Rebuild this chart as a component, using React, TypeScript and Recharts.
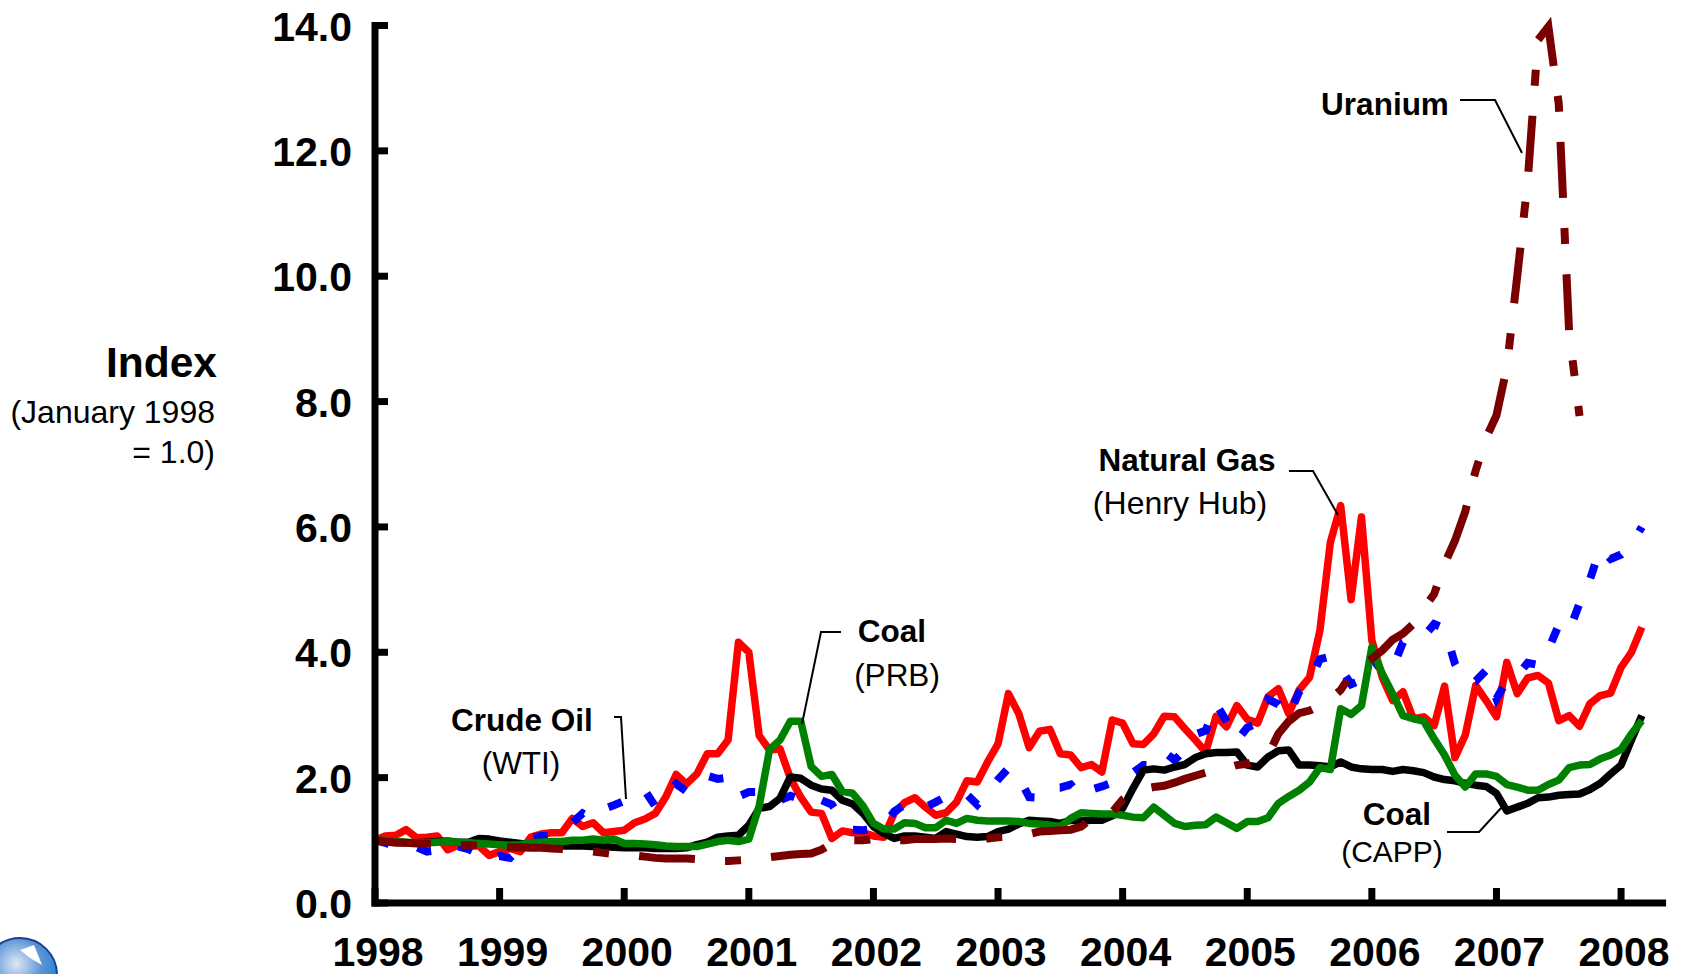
import { LineChart, Line, XAxis, YAxis } from "recharts";

const W = 1684;
const H = 974;
const FONT = '"Liberation Sans", Arial, sans-serif';

const yearTicks = [0, 12, 24, 36, 48, 60, 72, 84, 96, 108, 120];
const yearLabels = ["1998", "1999", "2000", "2001", "2002", "2003", "2004", "2005", "2006", "2007", "2008"];
const indexTicks = [0, 2, 4, 6, 8, 10, 12, 14];

// monthly index values, January 1998 = 1.0
const naturalGas = [
  1.0, 1.07, 1.08, 1.17, 1.04, 1.05, 1.07, 0.85, 0.92, 0.96, 0.91, 0.76,
  0.82, 0.87, 0.82, 1.05, 1.1, 1.12, 1.12, 1.35, 1.22, 1.28, 1.12, 1.14,
  1.16, 1.28, 1.34, 1.43, 1.69, 2.05, 1.9, 2.06, 2.38, 2.38, 2.6, 4.16,
  4.0, 2.67, 2.44, 2.46, 1.99, 1.69, 1.45, 1.43, 1.03, 1.15, 1.12, 1.12,
  1.07, 1.05, 1.43, 1.6, 1.68, 1.53, 1.4, 1.44, 1.61, 1.95, 1.93, 2.25,
  2.54, 3.34, 3.02, 2.48, 2.74, 2.77, 2.38, 2.36, 2.16, 2.21, 2.09, 2.92,
  2.87, 2.54, 2.53, 2.7, 2.98, 2.97, 2.78, 2.6, 2.41, 2.98, 2.81, 3.15,
  2.93, 2.87, 3.29, 3.42, 3.02, 3.4, 3.6, 4.35, 5.75, 6.34, 4.84, 6.16,
  4.19, 3.6, 3.23, 3.37, 2.94, 2.97, 2.83, 3.46, 2.32, 2.68, 3.47, 3.23,
  2.97, 3.84, 3.34, 3.59, 3.63, 3.51, 2.91, 2.99, 2.82, 3.18, 3.31, 3.35,
  3.76, 4.0, 4.4,
];

const crudeOil = [
  1.0, 0.96, 0.9, 0.92, 0.89, 0.82, 0.84, 0.8, 0.9, 0.86, 0.77, 0.68,
  0.75, 0.72, 0.88, 1.04, 1.07, 1.07, 1.2, 1.28, 1.43, 1.35, 1.5, 1.56,
  1.63, 1.76, 1.79, 1.54, 1.72, 1.9, 1.78, 1.87, 2.03, 1.98, 2.0, 1.7,
  1.77, 1.77, 1.63, 1.64, 1.71, 1.65, 1.58, 1.64, 1.57, 1.33, 1.17, 1.16,
  1.18, 1.24, 1.46, 1.57, 1.62, 1.53, 1.61, 1.7, 1.78, 1.73, 1.57, 1.76,
  1.97, 2.15, 2.0, 1.69, 1.68, 1.84, 1.84, 1.89, 1.69, 1.81, 1.86, 1.92,
  2.05, 2.08, 2.2, 2.2, 2.41, 2.28, 2.44, 2.69, 2.75, 3.18, 2.9, 2.59,
  2.8, 2.87, 3.25, 3.17, 2.98, 3.37, 3.53, 3.89, 3.93, 3.74, 3.49, 3.56,
  3.92, 3.69, 3.75, 4.16, 4.24, 4.25, 4.45, 4.38, 3.82, 3.53, 3.54, 3.71,
  3.26, 3.55, 3.63, 3.83, 3.8, 4.04, 4.44, 4.34, 4.78, 5.16, 5.66, 5.49,
  5.56, 5.71, 6.0,
];

const coalCapp = [
  1.0, 0.98, 0.97, 0.96, 0.96, 0.97, 0.98, 0.99, 0.97, 0.97, 1.03, 1.02,
  0.99, 0.97, 0.95, 0.93, 0.93, 0.92, 0.91, 0.91, 0.91, 0.9, 0.9, 0.89,
  0.88, 0.88, 0.88, 0.87, 0.87, 0.87, 0.88, 0.93, 0.97, 1.05, 1.07, 1.08,
  1.24, 1.51, 1.54, 1.67, 2.01, 1.99, 1.88, 1.82, 1.8, 1.64, 1.58, 1.43,
  1.22, 1.11, 1.03, 1.07, 1.07, 1.05, 1.03, 1.14, 1.1, 1.06, 1.05, 1.06,
  1.14, 1.18, 1.26, 1.32, 1.31, 1.3, 1.27, 1.32, 1.31, 1.32, 1.32, 1.39,
  1.51, 1.83, 2.12, 2.14, 2.12, 2.17, 2.21, 2.32, 2.38, 2.4, 2.4, 2.41,
  2.2, 2.17, 2.33, 2.43, 2.44, 2.2, 2.2, 2.19, 2.17, 2.25, 2.17, 2.14,
  2.13, 2.13, 2.1, 2.13, 2.11, 2.08, 2.01, 1.97, 1.95, 1.91, 1.88, 1.86,
  1.75, 1.47, 1.53, 1.59, 1.68, 1.69, 1.72, 1.73, 1.74, 1.81, 1.91, 2.06,
  2.2, 2.6, 2.99,
];

const coalPrb = [
  1.0, 1.0, 0.98, 0.97, 0.96, 0.96, 0.97, 0.98, 0.97, 0.96, 0.95, 0.94,
  0.93, 0.92, 0.93, 0.96, 0.97, 0.98, 0.98, 1.0, 1.0, 1.02, 1.0, 1.02,
  0.95, 0.95, 0.94, 0.93, 0.91, 0.9, 0.9, 0.9, 0.94, 0.98, 1.0, 0.98,
  1.02, 1.55, 2.45, 2.6, 2.9, 2.9, 2.18, 2.02, 2.05, 1.78, 1.75, 1.55,
  1.27, 1.18, 1.18, 1.28, 1.27, 1.2, 1.2, 1.32, 1.27, 1.35, 1.32, 1.31,
  1.31, 1.31, 1.3, 1.27, 1.26, 1.24, 1.22, 1.35, 1.44, 1.43, 1.42, 1.42,
  1.4, 1.37, 1.36, 1.53, 1.4, 1.27, 1.22, 1.24, 1.25, 1.37, 1.28, 1.19,
  1.3, 1.3, 1.36, 1.59, 1.7, 1.8, 1.93, 2.16, 2.13, 3.1, 3.01, 3.15,
  4.08, 3.66, 3.34, 2.99, 2.94, 2.9, 2.62, 2.36, 2.04, 1.85, 2.06, 2.06,
  2.02, 1.89, 1.85, 1.8, 1.8, 1.89, 1.96, 2.16, 2.2, 2.21, 2.3, 2.36,
  2.45, 2.7, 2.91,
];

const uranium = [
  1.0, 0.98, 0.96, 0.96, 0.95, 0.95, 0.95, 0.93, 0.92, 0.92, 0.91, 0.9,
  0.9, 0.89, 0.89, 0.88, 0.88, 0.87, 0.86, 0.84, 0.83, 0.82, 0.8, 0.78,
  0.77, 0.76, 0.74, 0.72, 0.71, 0.71, 0.71, 0.7, 0.68, 0.67, 0.67, 0.68,
  0.69, 0.7, 0.73, 0.75, 0.77, 0.78, 0.79, 0.85, 0.95, 0.99, 1.0, 1.0,
  1.02, 1.03, 1.0, 1.0, 1.02, 1.02, 1.02, 1.03, 1.02, 1.02, 1.02, 1.03,
  1.05, 1.06, 1.08, 1.1, 1.14, 1.15, 1.16, 1.17, 1.22, 1.35, 1.4, 1.45,
  1.65, 1.75, 1.82, 1.85, 1.87, 1.92, 1.98, 2.03, 2.08, 2.1, 2.15, 2.2,
  2.22, 2.28, 2.36, 2.7, 2.9, 3.03, 3.07, 3.15, 3.25, 3.4, 3.65, 3.8,
  3.9, 4.03, 4.2, 4.3, 4.45, 4.7, 4.93, 5.41, 5.78, 6.25, 6.9, 7.42,
  7.78, 8.55, 10.0, 11.5, 13.77, 13.98, 12.75, 9.1, 7.77,
];

const chartData = naturalGas.map((gas, i) => ({
  month: i,
  gas,
  oil: crudeOil[i],
  capp: coalCapp[i],
  prb: coalPrb[i],
  uranium: uranium[i],
}));

function YearTick({ y, payload, index }: any) {
  return (
    <g>
      <line x1={payload.coordinate} x2={payload.coordinate} y1={y - 3} y2={y - 15} stroke="#000" strokeWidth={7} />
      <text x={payload.coordinate + 3} y={965.5} textAnchor="middle" fontFamily={FONT} fontWeight={700} fontSize={41} fill="#000">
        {yearLabels[index]}
      </text>
    </g>
  );
}

function IndexTick({ payload }: any) {
  return (
    <g>
      <line x1={375} x2={388} y1={payload.coordinate} y2={payload.coordinate} stroke="#000" strokeWidth={7} />
      <text x={352} y={payload.coordinate + 15} textAnchor="end" fontFamily={FONT} fontWeight={700} fontSize={41} fill="#000">
        {payload.value.toFixed(1)}
      </text>
    </g>
  );
}

function Label({ x, y, bold, anchor = "middle", size = 31.5, children }: any) {
  return (
    <text x={x} y={y} textAnchor={anchor} fontFamily={FONT} fontWeight={bold ? 700 : 400} fontSize={size} fill="#000">
      {children}
    </text>
  );
}

const leaders = [
  "614,717 621,717 626,799",
  "841,632 821,632 802,724",
  "1289,471 1313,471 1338,515",
  "1460,100 1495,100 1522,153",
  "1447,832 1479,832 1502,807",
];

export default function App() {
  return (
    <div style={{ position: "absolute", left: 0, top: 0, width: W, height: H, background: "#fff", overflow: "hidden" }}>
      <LineChart width={W} height={H} data={chartData} margin={{ top: 25.5, right: 21.4, bottom: 0, left: 0 }}>
        <XAxis
          dataKey="month"
          type="number"
          domain={[0, 124]}
          ticks={yearTicks}
          interval={0}
          height={71}
          tickSize={0}
          tickMargin={0}
          tick={<YearTick />}
          axisLine={{ stroke: "#000", strokeWidth: 7, strokeLinecap: "square" }}
          tickLine={false}
        />
        <YAxis
          type="number"
          domain={[0, 14]}
          ticks={indexTicks}
          interval={0}
          width={375}
          tickSize={0}
          tick={<IndexTick />}
          axisLine={{ stroke: "#000", strokeWidth: 7, strokeLinecap: "square" }}
          tickLine={false}
        />
        <Line dataKey="gas" stroke="#ff0000" strokeWidth={7.5} dot={false} strokeLinejoin="round" isAnimationActive={false} />
        <Line dataKey="oil" stroke="#0000ff" strokeWidth={8} strokeDasharray="14.5 29.3" dot={false} isAnimationActive={false} />
        <Line dataKey="capp" stroke="#000000" strokeWidth={7.5} dot={false} strokeLinejoin="round" isAnimationActive={false} />
        <Line dataKey="prb" stroke="#008000" strokeWidth={7.5} dot={false} strokeLinejoin="round" isAnimationActive={false} />
        <Line dataKey="uranium" stroke="#7a0000" strokeWidth={8} strokeDasharray="56 30.2 16 30.2" dot={false} isAnimationActive={false} />
      </LineChart>

      <svg width={W} height={H} style={{ position: "absolute", left: 0, top: 0, pointerEvents: "none" }}>
        <defs>
          <radialGradient id="globe" cx="0.45" cy="0.35" r="0.7">
            <stop offset="0" stopColor="#dfe8f5" />
            <stop offset="0.5" stopColor="#5b93d6" />
            <stop offset="1" stopColor="#0a7fd0" />
          </radialGradient>
        </defs>
        <circle cx={20} cy={975} r={37} fill="url(#globe)" stroke="#1c3f8f" strokeWidth={2} />
        <path d="M20 950 L34 945 L42 965 L30 958 Z" fill="#fff" />

        {leaders.map((points) => (
          <polyline key={points} points={points} fill="none" stroke="#000" strokeWidth={2} />
        ))}

        <Label x={217} y={377} anchor="end" bold size={42.5}>Index</Label>
        <Label x={215} y={423} anchor="end" size={32}>(January 1998</Label>
        <Label x={215} y={463} anchor="end" size={32}>= 1.0)</Label>

        <Label x={522} y={731} bold>Crude Oil</Label>
        <Label x={521} y={774}>(WTI)</Label>
        <Label x={892} y={642} bold>Coal</Label>
        <Label x={897} y={686}>(PRB)</Label>
        <Label x={1187} y={471} bold>Natural Gas</Label>
        <Label x={1180} y={514} size={32}>(Henry Hub)</Label>
        <Label x={1385} y={115} bold>Uranium</Label>
        <Label x={1397} y={825} bold>Coal</Label>
        <Label x={1392} y={862} size={30}>(CAPP)</Label>
      </svg>
    </div>
  );
}
